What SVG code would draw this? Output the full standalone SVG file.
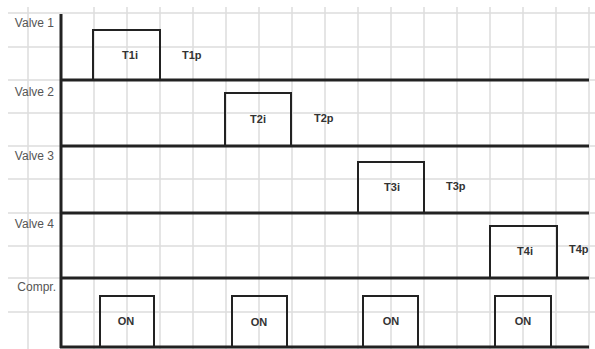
<svg xmlns="http://www.w3.org/2000/svg" width="595" height="349" viewBox="0 0 595 349">
<style>
.grid line{stroke:#dcdcdc;stroke-width:1.5}
.axis{stroke:#222;stroke-width:3;fill:none}
.box{stroke:#222;stroke-width:2;fill:none}
.lbl{font-family:"Liberation Sans",Arial,sans-serif;font-size:12px;fill:#555}
.t{font-family:"Liberation Sans",Arial,sans-serif;font-size:11px;font-weight:bold;fill:#333}
</style>
<rect width="595" height="349" fill="#fff"/>
<g id="grid" class="grid">
<line x1="28" y1="7" x2="28" y2="349"/>
<line x1="94" y1="7" x2="94" y2="349"/>
<line x1="127" y1="7" x2="127" y2="349"/>
<line x1="160" y1="7" x2="160" y2="349"/>
<line x1="193" y1="7" x2="193" y2="349"/>
<line x1="226" y1="7" x2="226" y2="349"/>
<line x1="259" y1="7" x2="259" y2="349"/>
<line x1="292" y1="7" x2="292" y2="349"/>
<line x1="325" y1="7" x2="325" y2="349"/>
<line x1="358" y1="7" x2="358" y2="349"/>
<line x1="391" y1="7" x2="391" y2="349"/>
<line x1="424" y1="7" x2="424" y2="349"/>
<line x1="457" y1="7" x2="457" y2="349"/>
<line x1="490" y1="7" x2="490" y2="349"/>
<line x1="523" y1="7" x2="523" y2="349"/>
<line x1="556" y1="7" x2="556" y2="349"/>
<line x1="589" y1="7" x2="589" y2="349"/>
<line x1="8" y1="13" x2="595" y2="13"/>
<line x1="8" y1="47" x2="595" y2="47"/>
<line x1="8" y1="80" x2="595" y2="80"/>
<line x1="8" y1="113" x2="595" y2="113"/>
<line x1="8" y1="146" x2="595" y2="146"/>
<line x1="8" y1="179" x2="595" y2="179"/>
<line x1="8" y1="213" x2="595" y2="213"/>
<line x1="8" y1="246" x2="595" y2="246"/>
<line x1="8" y1="278" x2="595" y2="278"/>
<line x1="8" y1="312" x2="595" y2="312"/>
</g>
<g id="axes">
<line class="axis" x1="61" y1="14" x2="61" y2="348"/>
<line class="axis" x1="60" y1="80" x2="589" y2="80"/>
<line class="axis" x1="60" y1="146" x2="589" y2="146"/>
<line class="axis" x1="60" y1="213" x2="589" y2="213"/>
<line class="axis" x1="60" y1="278" x2="589" y2="278"/>
<line class="axis" x1="60" y1="347" x2="589" y2="347"/>
</g>
<g id="labels">
<text class="lbl" x="54" y="27" text-anchor="end">Valve 1</text>
<text class="lbl" x="54" y="96" text-anchor="end">Valve 2</text>
<text class="lbl" x="54" y="160" text-anchor="end">Valve 3</text>
<text class="lbl" x="54" y="228" text-anchor="end">Valve 4</text>
<text class="lbl" x="56" y="291" text-anchor="end">Compr.</text>
</g>
<g id="valve1">
<polyline class="box" points="93,80 93,30 160,30 160,80"/>
<text class="t" x="130" y="59" text-anchor="middle">T1i</text>
<text class="t" x="182" y="59">T1p</text>
</g>
<g id="valve2">
<polyline class="box" points="225,146 225,93 291,93 291,146"/>
<text class="t" x="258" y="123" text-anchor="middle">T2i</text>
<text class="t" x="314" y="122">T2p</text>
</g>
<g id="valve3">
<polyline class="box" points="358,213 358,162 424,162 424,213"/>
<text class="t" x="392" y="191" text-anchor="middle">T3i</text>
<text class="t" x="446" y="190">T3p</text>
</g>
<g id="valve4">
<polyline class="box" points="490,278 490,226 557,226 557,278"/>
<text class="t" x="525" y="255" text-anchor="middle">T4i</text>
<text class="t" x="569" y="253">T4p</text>
</g>
<g id="compr1">
<polyline class="box" points="100,347 100,296 154,296 154,347"/>
<text class="t" x="126" y="325" text-anchor="middle">ON</text>
</g>
<g id="compr2">
<polyline class="box" points="232,347 232,296 287,296 287,347"/>
<text class="t" x="259" y="326" text-anchor="middle">ON</text>
</g>
<g id="compr3">
<polyline class="box" points="363,347 363,296 418,296 418,347"/>
<text class="t" x="391" y="325" text-anchor="middle">ON</text>
</g>
<g id="compr4">
<polyline class="box" points="495,347 495,296 551,296 551,347"/>
<text class="t" x="523" y="325" text-anchor="middle">ON</text>
</g>
</svg>
